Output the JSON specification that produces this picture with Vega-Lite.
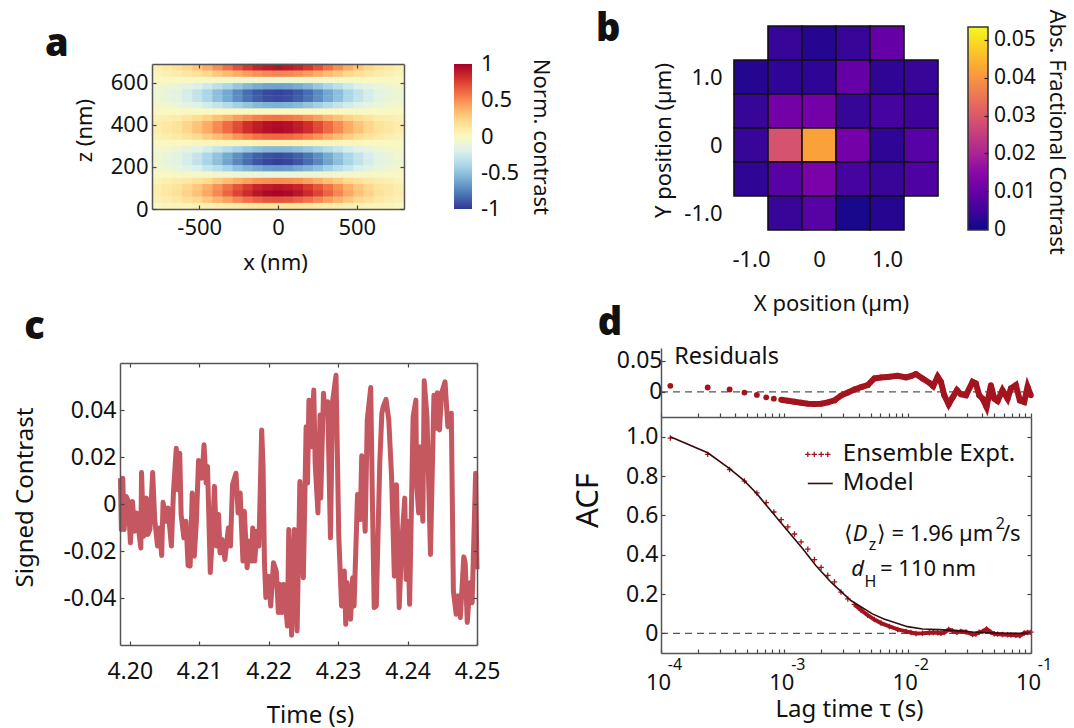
{"$schema":"https://vega.github.io/schema/vega-lite/v6.json","width":1074,"height":728,"autosize":"none","padding":0,"background":"white",
"config":{"font":"Noto Sans","view":{"stroke":null},"axis":{"grid":false,"labelFontSize":22,"titleFontSize":22,"labelColor":"#111","titleColor":"#111","titleFontWeight":"normal","titleBaseline":"middle","domainColor":"#555","tickColor":"#444","domainWidth":1.5,"tickWidth":1.2,"labelOverlap":false,"labelFlush":false},"text":{"color":"#111","align":"left","baseline":"middle"}},
"datasets":{
"a":[{"x":-768,"z":15,"c":0.01},{"x":-704,"z":15,"c":0.02},{"x":-640,"z":15,"c":0.03},{"x":-576,"z":15,"c":0.04},{"x":-512,"z":15,"c":0.05},{"x":-448,"z":15,"c":0.06},{"x":-384,"z":15,"c":0.08},{"x":-320,"z":15,"c":0.1},{"x":-256,"z":15,"c":0.11},{"x":-192,"z":15,"c":0.13},{"x":-128,"z":15,"c":0.14},{"x":-64,"z":15,"c":0.15},{"x":0,"z":15,"c":0.15},{"x":64,"z":15,"c":0.15},{"x":128,"z":15,"c":0.14},{"x":192,"z":15,"c":0.13},{"x":256,"z":15,"c":0.11},{"x":320,"z":15,"c":0.1},{"x":384,"z":15,"c":0.08},{"x":448,"z":15,"c":0.06},{"x":512,"z":15,"c":0.05},{"x":576,"z":15,"c":0.04},{"x":640,"z":15,"c":0.03},{"x":704,"z":15,"c":0.02},{"x":768,"z":15,"c":0.01},
{"x":-768,"z":45,"c":0.06},{"x":-704,"z":45,"c":0.08},{"x":-640,"z":45,"c":0.12},{"x":-576,"z":45,"c":0.17},{"x":-512,"z":45,"c":0.22},{"x":-448,"z":45,"c":0.29},{"x":-384,"z":45,"c":0.37},{"x":-320,"z":45,"c":0.44},{"x":-256,"z":45,"c":0.52},{"x":-192,"z":45,"c":0.59},{"x":-128,"z":45,"c":0.64},{"x":-64,"z":45,"c":0.68},{"x":0,"z":45,"c":0.69},{"x":64,"z":45,"c":0.68},{"x":128,"z":45,"c":0.64},{"x":192,"z":45,"c":0.59},{"x":256,"z":45,"c":0.52},{"x":320,"z":45,"c":0.44},{"x":384,"z":45,"c":0.37},{"x":448,"z":45,"c":0.29},{"x":512,"z":45,"c":0.22},{"x":576,"z":45,"c":0.17},{"x":640,"z":45,"c":0.12},{"x":704,"z":45,"c":0.08},{"x":768,"z":45,"c":0.06},
{"x":-768,"z":75,"c":0.08},{"x":-704,"z":75,"c":0.12},{"x":-640,"z":75,"c":0.17},{"x":-576,"z":75,"c":0.24},{"x":-512,"z":75,"c":0.31},{"x":-448,"z":75,"c":0.41},{"x":-384,"z":75,"c":0.52},{"x":-320,"z":75,"c":0.63},{"x":-256,"z":75,"c":0.74},{"x":-192,"z":75,"c":0.83},{"x":-128,"z":75,"c":0.91},{"x":-64,"z":75,"c":0.96},{"x":0,"z":75,"c":0.98},{"x":64,"z":75,"c":0.96},{"x":128,"z":75,"c":0.91},{"x":192,"z":75,"c":0.83},{"x":256,"z":75,"c":0.74},{"x":320,"z":75,"c":0.63},{"x":384,"z":75,"c":0.52},{"x":448,"z":75,"c":0.41},{"x":512,"z":75,"c":0.31},{"x":576,"z":75,"c":0.24},{"x":640,"z":75,"c":0.17},{"x":704,"z":75,"c":0.12},{"x":768,"z":75,"c":0.08},
{"x":-768,"z":105,"c":0.07},{"x":-704,"z":105,"c":0.11},{"x":-640,"z":105,"c":0.15},{"x":-576,"z":105,"c":0.22},{"x":-512,"z":105,"c":0.29},{"x":-448,"z":105,"c":0.38},{"x":-384,"z":105,"c":0.48},{"x":-320,"z":105,"c":0.58},{"x":-256,"z":105,"c":0.68},{"x":-192,"z":105,"c":0.77},{"x":-128,"z":105,"c":0.85},{"x":-64,"z":105,"c":0.89},{"x":0,"z":105,"c":0.91},{"x":64,"z":105,"c":0.89},{"x":128,"z":105,"c":0.85},{"x":192,"z":105,"c":0.77},{"x":256,"z":105,"c":0.68},{"x":320,"z":105,"c":0.58},{"x":384,"z":105,"c":0.48},{"x":448,"z":105,"c":0.38},{"x":512,"z":105,"c":0.29},{"x":576,"z":105,"c":0.22},{"x":640,"z":105,"c":0.15},{"x":704,"z":105,"c":0.11},{"x":768,"z":105,"c":0.07},
{"x":-768,"z":135,"c":0.04},{"x":-704,"z":135,"c":0.06},{"x":-640,"z":135,"c":0.09},{"x":-576,"z":135,"c":0.12},{"x":-512,"z":135,"c":0.16},{"x":-448,"z":135,"c":0.21},{"x":-384,"z":135,"c":0.27},{"x":-320,"z":135,"c":0.32},{"x":-256,"z":135,"c":0.38},{"x":-192,"z":135,"c":0.43},{"x":-128,"z":135,"c":0.47},{"x":-64,"z":135,"c":0.49},{"x":0,"z":135,"c":0.5},{"x":64,"z":135,"c":0.49},{"x":128,"z":135,"c":0.47},{"x":192,"z":135,"c":0.43},{"x":256,"z":135,"c":0.38},{"x":320,"z":135,"c":0.32},{"x":384,"z":135,"c":0.27},{"x":448,"z":135,"c":0.21},{"x":512,"z":135,"c":0.16},{"x":576,"z":135,"c":0.12},{"x":640,"z":135,"c":0.09},{"x":704,"z":135,"c":0.06},{"x":768,"z":135,"c":0.04},
{"x":-768,"z":165,"c":-0.01},{"x":-704,"z":165,"c":-0.01},{"x":-640,"z":165,"c":-0.02},{"x":-576,"z":165,"c":-0.02},{"x":-512,"z":165,"c":-0.03},{"x":-448,"z":165,"c":-0.04},{"x":-384,"z":165,"c":-0.05},{"x":-320,"z":165,"c":-0.06},{"x":-256,"z":165,"c":-0.08},{"x":-192,"z":165,"c":-0.09},{"x":-128,"z":165,"c":-0.09},{"x":-64,"z":165,"c":-0.1},{"x":0,"z":165,"c":-0.1},{"x":64,"z":165,"c":-0.1},{"x":128,"z":165,"c":-0.09},{"x":192,"z":165,"c":-0.09},{"x":256,"z":165,"c":-0.08},{"x":320,"z":165,"c":-0.06},{"x":384,"z":165,"c":-0.05},{"x":448,"z":165,"c":-0.04},{"x":512,"z":165,"c":-0.03},{"x":576,"z":165,"c":-0.02},{"x":640,"z":165,"c":-0.02},{"x":704,"z":165,"c":-0.01},{"x":768,"z":165,"c":-0.01},
{"x":-768,"z":195,"c":-0.05},{"x":-704,"z":195,"c":-0.08},{"x":-640,"z":195,"c":-0.11},{"x":-576,"z":195,"c":-0.16},{"x":-512,"z":195,"c":-0.21},{"x":-448,"z":195,"c":-0.28},{"x":-384,"z":195,"c":-0.35},{"x":-320,"z":195,"c":-0.42},{"x":-256,"z":195,"c":-0.5},{"x":-192,"z":195,"c":-0.56},{"x":-128,"z":195,"c":-0.61},{"x":-64,"z":195,"c":-0.65},{"x":0,"z":195,"c":-0.66},{"x":64,"z":195,"c":-0.65},{"x":128,"z":195,"c":-0.61},{"x":192,"z":195,"c":-0.56},{"x":256,"z":195,"c":-0.5},{"x":320,"z":195,"c":-0.42},{"x":384,"z":195,"c":-0.35},{"x":448,"z":195,"c":-0.28},{"x":512,"z":195,"c":-0.21},{"x":576,"z":195,"c":-0.16},{"x":640,"z":195,"c":-0.11},{"x":704,"z":195,"c":-0.08},{"x":768,"z":195,"c":-0.05},
{"x":-768,"z":225,"c":-0.08},{"x":-704,"z":225,"c":-0.12},{"x":-640,"z":225,"c":-0.16},{"x":-576,"z":225,"c":-0.23},{"x":-512,"z":225,"c":-0.31},{"x":-448,"z":225,"c":-0.41},{"x":-384,"z":225,"c":-0.51},{"x":-320,"z":225,"c":-0.62},{"x":-256,"z":225,"c":-0.73},{"x":-192,"z":225,"c":-0.82},{"x":-128,"z":225,"c":-0.9},{"x":-64,"z":225,"c":-0.95},{"x":0,"z":225,"c":-0.97},{"x":64,"z":225,"c":-0.95},{"x":128,"z":225,"c":-0.9},{"x":192,"z":225,"c":-0.82},{"x":256,"z":225,"c":-0.73},{"x":320,"z":225,"c":-0.62},{"x":384,"z":225,"c":-0.51},{"x":448,"z":225,"c":-0.41},{"x":512,"z":225,"c":-0.31},{"x":576,"z":225,"c":-0.23},{"x":640,"z":225,"c":-0.16},{"x":704,"z":225,"c":-0.12},{"x":768,"z":225,"c":-0.08},
{"x":-768,"z":255,"c":-0.07},{"x":-704,"z":255,"c":-0.11},{"x":-640,"z":255,"c":-0.16},{"x":-576,"z":255,"c":-0.22},{"x":-512,"z":255,"c":-0.3},{"x":-448,"z":255,"c":-0.39},{"x":-384,"z":255,"c":-0.49},{"x":-320,"z":255,"c":-0.6},{"x":-256,"z":255,"c":-0.7},{"x":-192,"z":255,"c":-0.79},{"x":-128,"z":255,"c":-0.86},{"x":-64,"z":255,"c":-0.91},{"x":0,"z":255,"c":-0.93},{"x":64,"z":255,"c":-0.91},{"x":128,"z":255,"c":-0.86},{"x":192,"z":255,"c":-0.79},{"x":256,"z":255,"c":-0.7},{"x":320,"z":255,"c":-0.6},{"x":384,"z":255,"c":-0.49},{"x":448,"z":255,"c":-0.39},{"x":512,"z":255,"c":-0.3},{"x":576,"z":255,"c":-0.22},{"x":640,"z":255,"c":-0.16},{"x":704,"z":255,"c":-0.11},{"x":768,"z":255,"c":-0.07},
{"x":-768,"z":285,"c":-0.04},{"x":-704,"z":285,"c":-0.06},{"x":-640,"z":285,"c":-0.09},{"x":-576,"z":285,"c":-0.13},{"x":-512,"z":285,"c":-0.17},{"x":-448,"z":285,"c":-0.23},{"x":-384,"z":285,"c":-0.29},{"x":-320,"z":285,"c":-0.35},{"x":-256,"z":285,"c":-0.41},{"x":-192,"z":285,"c":-0.46},{"x":-128,"z":285,"c":-0.5},{"x":-64,"z":285,"c":-0.53},{"x":0,"z":285,"c":-0.54},{"x":64,"z":285,"c":-0.53},{"x":128,"z":285,"c":-0.5},{"x":192,"z":285,"c":-0.46},{"x":256,"z":285,"c":-0.41},{"x":320,"z":285,"c":-0.35},{"x":384,"z":285,"c":-0.29},{"x":448,"z":285,"c":-0.23},{"x":512,"z":285,"c":-0.17},{"x":576,"z":285,"c":-0.13},{"x":640,"z":285,"c":-0.09},{"x":704,"z":285,"c":-0.06},{"x":768,"z":285,"c":-0.04},
{"x":-768,"z":315,"c":0},{"x":-704,"z":315,"c":0.01},{"x":-640,"z":315,"c":0.01},{"x":-576,"z":315,"c":0.01},{"x":-512,"z":315,"c":0.02},{"x":-448,"z":315,"c":0.02},{"x":-384,"z":315,"c":0.03},{"x":-320,"z":315,"c":0.03},{"x":-256,"z":315,"c":0.04},{"x":-192,"z":315,"c":0.04},{"x":-128,"z":315,"c":0.05},{"x":-64,"z":315,"c":0.05},{"x":0,"z":315,"c":0.05},{"x":64,"z":315,"c":0.05},{"x":128,"z":315,"c":0.05},{"x":192,"z":315,"c":0.04},{"x":256,"z":315,"c":0.04},{"x":320,"z":315,"c":0.03},{"x":384,"z":315,"c":0.03},{"x":448,"z":315,"c":0.02},{"x":512,"z":315,"c":0.02},{"x":576,"z":315,"c":0.01},{"x":640,"z":315,"c":0.01},{"x":704,"z":315,"c":0.01},{"x":768,"z":315,"c":0},
{"x":-768,"z":345,"c":0.05},{"x":-704,"z":345,"c":0.07},{"x":-640,"z":345,"c":0.11},{"x":-576,"z":345,"c":0.15},{"x":-512,"z":345,"c":0.2},{"x":-448,"z":345,"c":0.26},{"x":-384,"z":345,"c":0.33},{"x":-320,"z":345,"c":0.4},{"x":-256,"z":345,"c":0.47},{"x":-192,"z":345,"c":0.53},{"x":-128,"z":345,"c":0.58},{"x":-64,"z":345,"c":0.61},{"x":0,"z":345,"c":0.62},{"x":64,"z":345,"c":0.61},{"x":128,"z":345,"c":0.58},{"x":192,"z":345,"c":0.53},{"x":256,"z":345,"c":0.47},{"x":320,"z":345,"c":0.4},{"x":384,"z":345,"c":0.33},{"x":448,"z":345,"c":0.26},{"x":512,"z":345,"c":0.2},{"x":576,"z":345,"c":0.15},{"x":640,"z":345,"c":0.11},{"x":704,"z":345,"c":0.07},{"x":768,"z":345,"c":0.05},
{"x":-768,"z":375,"c":0.08},{"x":-704,"z":375,"c":0.12},{"x":-640,"z":375,"c":0.16},{"x":-576,"z":375,"c":0.23},{"x":-512,"z":375,"c":0.31},{"x":-448,"z":375,"c":0.4},{"x":-384,"z":375,"c":0.51},{"x":-320,"z":375,"c":0.61},{"x":-256,"z":375,"c":0.72},{"x":-192,"z":375,"c":0.82},{"x":-128,"z":375,"c":0.89},{"x":-64,"z":375,"c":0.94},{"x":0,"z":375,"c":0.96},{"x":64,"z":375,"c":0.94},{"x":128,"z":375,"c":0.89},{"x":192,"z":375,"c":0.82},{"x":256,"z":375,"c":0.72},{"x":320,"z":375,"c":0.61},{"x":384,"z":375,"c":0.51},{"x":448,"z":375,"c":0.4},{"x":512,"z":375,"c":0.31},{"x":576,"z":375,"c":0.23},{"x":640,"z":375,"c":0.16},{"x":704,"z":375,"c":0.12},{"x":768,"z":375,"c":0.08},
{"x":-768,"z":405,"c":0.08},{"x":-704,"z":405,"c":0.11},{"x":-640,"z":405,"c":0.16},{"x":-576,"z":405,"c":0.23},{"x":-512,"z":405,"c":0.3},{"x":-448,"z":405,"c":0.4},{"x":-384,"z":405,"c":0.5},{"x":-320,"z":405,"c":0.61},{"x":-256,"z":405,"c":0.71},{"x":-192,"z":405,"c":0.81},{"x":-128,"z":405,"c":0.88},{"x":-64,"z":405,"c":0.93},{"x":0,"z":405,"c":0.95},{"x":64,"z":405,"c":0.93},{"x":128,"z":405,"c":0.88},{"x":192,"z":405,"c":0.81},{"x":256,"z":405,"c":0.71},{"x":320,"z":405,"c":0.61},{"x":384,"z":405,"c":0.5},{"x":448,"z":405,"c":0.4},{"x":512,"z":405,"c":0.3},{"x":576,"z":405,"c":0.23},{"x":640,"z":405,"c":0.16},{"x":704,"z":405,"c":0.11},{"x":768,"z":405,"c":0.08},
{"x":-768,"z":435,"c":0.05},{"x":-704,"z":435,"c":0.07},{"x":-640,"z":435,"c":0.1},{"x":-576,"z":435,"c":0.14},{"x":-512,"z":435,"c":0.19},{"x":-448,"z":435,"c":0.24},{"x":-384,"z":435,"c":0.31},{"x":-320,"z":435,"c":0.37},{"x":-256,"z":435,"c":0.44},{"x":-192,"z":435,"c":0.49},{"x":-128,"z":435,"c":0.54},{"x":-64,"z":435,"c":0.57},{"x":0,"z":435,"c":0.58},{"x":64,"z":435,"c":0.57},{"x":128,"z":435,"c":0.54},{"x":192,"z":435,"c":0.49},{"x":256,"z":435,"c":0.44},{"x":320,"z":435,"c":0.37},{"x":384,"z":435,"c":0.31},{"x":448,"z":435,"c":0.24},{"x":512,"z":435,"c":0.19},{"x":576,"z":435,"c":0.14},{"x":640,"z":435,"c":0.1},{"x":704,"z":435,"c":0.07},{"x":768,"z":435,"c":0.05},
{"x":-768,"z":465,"c":0},{"x":-704,"z":465,"c":0},{"x":-640,"z":465,"c":0},{"x":-576,"z":465,"c":0},{"x":-512,"z":465,"c":0},{"x":-448,"z":465,"c":0},{"x":-384,"z":465,"c":0.01},{"x":-320,"z":465,"c":0.01},{"x":-256,"z":465,"c":0.01},{"x":-192,"z":465,"c":0.01},{"x":-128,"z":465,"c":0.01},{"x":-64,"z":465,"c":0.01},{"x":0,"z":465,"c":0.01},{"x":64,"z":465,"c":0.01},{"x":128,"z":465,"c":0.01},{"x":192,"z":465,"c":0.01},{"x":256,"z":465,"c":0.01},{"x":320,"z":465,"c":0.01},{"x":384,"z":465,"c":0.01},{"x":448,"z":465,"c":0},{"x":512,"z":465,"c":0},{"x":576,"z":465,"c":0},{"x":640,"z":465,"c":0},{"x":704,"z":465,"c":0},{"x":768,"z":465,"c":0},
{"x":-768,"z":495,"c":-0.05},{"x":-704,"z":495,"c":-0.07},{"x":-640,"z":495,"c":-0.1},{"x":-576,"z":495,"c":-0.14},{"x":-512,"z":495,"c":-0.18},{"x":-448,"z":495,"c":-0.24},{"x":-384,"z":495,"c":-0.3},{"x":-320,"z":495,"c":-0.36},{"x":-256,"z":495,"c":-0.43},{"x":-192,"z":495,"c":-0.48},{"x":-128,"z":495,"c":-0.53},{"x":-64,"z":495,"c":-0.56},{"x":0,"z":495,"c":-0.57},{"x":64,"z":495,"c":-0.56},{"x":128,"z":495,"c":-0.53},{"x":192,"z":495,"c":-0.48},{"x":256,"z":495,"c":-0.43},{"x":320,"z":495,"c":-0.36},{"x":384,"z":495,"c":-0.3},{"x":448,"z":495,"c":-0.24},{"x":512,"z":495,"c":-0.18},{"x":576,"z":495,"c":-0.14},{"x":640,"z":495,"c":-0.1},{"x":704,"z":495,"c":-0.07},{"x":768,"z":495,"c":-0.05},
{"x":-768,"z":525,"c":-0.08},{"x":-704,"z":525,"c":-0.11},{"x":-640,"z":525,"c":-0.16},{"x":-576,"z":525,"c":-0.23},{"x":-512,"z":525,"c":-0.3},{"x":-448,"z":525,"c":-0.39},{"x":-384,"z":525,"c":-0.5},{"x":-320,"z":525,"c":-0.6},{"x":-256,"z":525,"c":-0.71},{"x":-192,"z":525,"c":-0.8},{"x":-128,"z":525,"c":-0.87},{"x":-64,"z":525,"c":-0.92},{"x":0,"z":525,"c":-0.94},{"x":64,"z":525,"c":-0.92},{"x":128,"z":525,"c":-0.87},{"x":192,"z":525,"c":-0.8},{"x":256,"z":525,"c":-0.71},{"x":320,"z":525,"c":-0.6},{"x":384,"z":525,"c":-0.5},{"x":448,"z":525,"c":-0.39},{"x":512,"z":525,"c":-0.3},{"x":576,"z":525,"c":-0.23},{"x":640,"z":525,"c":-0.16},{"x":704,"z":525,"c":-0.11},{"x":768,"z":525,"c":-0.08},
{"x":-768,"z":555,"c":-0.08},{"x":-704,"z":555,"c":-0.12},{"x":-640,"z":555,"c":-0.16},{"x":-576,"z":555,"c":-0.23},{"x":-512,"z":555,"c":-0.31},{"x":-448,"z":555,"c":-0.4},{"x":-384,"z":555,"c":-0.51},{"x":-320,"z":555,"c":-0.61},{"x":-256,"z":555,"c":-0.72},{"x":-192,"z":555,"c":-0.82},{"x":-128,"z":555,"c":-0.89},{"x":-64,"z":555,"c":-0.94},{"x":0,"z":555,"c":-0.96},{"x":64,"z":555,"c":-0.94},{"x":128,"z":555,"c":-0.89},{"x":192,"z":555,"c":-0.82},{"x":256,"z":555,"c":-0.72},{"x":320,"z":555,"c":-0.61},{"x":384,"z":555,"c":-0.51},{"x":448,"z":555,"c":-0.4},{"x":512,"z":555,"c":-0.31},{"x":576,"z":555,"c":-0.23},{"x":640,"z":555,"c":-0.16},{"x":704,"z":555,"c":-0.12},{"x":768,"z":555,"c":-0.08},
{"x":-768,"z":585,"c":-0.05},{"x":-704,"z":585,"c":-0.08},{"x":-640,"z":585,"c":-0.11},{"x":-576,"z":585,"c":-0.15},{"x":-512,"z":585,"c":-0.2},{"x":-448,"z":585,"c":-0.26},{"x":-384,"z":585,"c":-0.33},{"x":-320,"z":585,"c":-0.4},{"x":-256,"z":585,"c":-0.47},{"x":-192,"z":585,"c":-0.54},{"x":-128,"z":585,"c":-0.59},{"x":-64,"z":585,"c":-0.62},{"x":0,"z":585,"c":-0.63},{"x":64,"z":585,"c":-0.62},{"x":128,"z":585,"c":-0.59},{"x":192,"z":585,"c":-0.54},{"x":256,"z":585,"c":-0.47},{"x":320,"z":585,"c":-0.4},{"x":384,"z":585,"c":-0.33},{"x":448,"z":585,"c":-0.26},{"x":512,"z":585,"c":-0.2},{"x":576,"z":585,"c":-0.15},{"x":640,"z":585,"c":-0.11},{"x":704,"z":585,"c":-0.08},{"x":768,"z":585,"c":-0.05},
{"x":-768,"z":615,"c":0},{"x":-704,"z":615,"c":-0.01},{"x":-640,"z":615,"c":-0.01},{"x":-576,"z":615,"c":-0.01},{"x":-512,"z":615,"c":-0.02},{"x":-448,"z":615,"c":-0.03},{"x":-384,"z":615,"c":-0.03},{"x":-320,"z":615,"c":-0.04},{"x":-256,"z":615,"c":-0.05},{"x":-192,"z":615,"c":-0.05},{"x":-128,"z":615,"c":-0.06},{"x":-64,"z":615,"c":-0.06},{"x":0,"z":615,"c":-0.06},{"x":64,"z":615,"c":-0.06},{"x":128,"z":615,"c":-0.06},{"x":192,"z":615,"c":-0.05},{"x":256,"z":615,"c":-0.05},{"x":320,"z":615,"c":-0.04},{"x":384,"z":615,"c":-0.03},{"x":448,"z":615,"c":-0.03},{"x":512,"z":615,"c":-0.02},{"x":576,"z":615,"c":-0.01},{"x":640,"z":615,"c":-0.01},{"x":704,"z":615,"c":-0.01},{"x":768,"z":615,"c":0},
{"x":-768,"z":645,"c":0.04},{"x":-704,"z":645,"c":0.06},{"x":-640,"z":645,"c":0.09},{"x":-576,"z":645,"c":0.13},{"x":-512,"z":645,"c":0.17},{"x":-448,"z":645,"c":0.22},{"x":-384,"z":645,"c":0.28},{"x":-320,"z":645,"c":0.34},{"x":-256,"z":645,"c":0.4},{"x":-192,"z":645,"c":0.45},{"x":-128,"z":645,"c":0.49},{"x":-64,"z":645,"c":0.52},{"x":0,"z":645,"c":0.53},{"x":64,"z":645,"c":0.52},{"x":128,"z":645,"c":0.49},{"x":192,"z":645,"c":0.45},{"x":256,"z":645,"c":0.4},{"x":320,"z":645,"c":0.34},{"x":384,"z":645,"c":0.28},{"x":448,"z":645,"c":0.22},{"x":512,"z":645,"c":0.17},{"x":576,"z":645,"c":0.13},{"x":640,"z":645,"c":0.09},{"x":704,"z":645,"c":0.06},{"x":768,"z":645,"c":0.04},
{"x":-768,"z":675,"c":0.07},{"x":-704,"z":675,"c":0.11},{"x":-640,"z":675,"c":0.16},{"x":-576,"z":675,"c":0.22},{"x":-512,"z":675,"c":0.29},{"x":-448,"z":675,"c":0.39},{"x":-384,"z":675,"c":0.49},{"x":-320,"z":675,"c":0.59},{"x":-256,"z":675,"c":0.69},{"x":-192,"z":675,"c":0.78},{"x":-128,"z":675,"c":0.86},{"x":-64,"z":675,"c":0.9},{"x":0,"z":675,"c":0.92},{"x":64,"z":675,"c":0.9},{"x":128,"z":675,"c":0.86},{"x":192,"z":675,"c":0.78},{"x":256,"z":675,"c":0.69},{"x":320,"z":675,"c":0.59},{"x":384,"z":675,"c":0.49},{"x":448,"z":675,"c":0.39},{"x":512,"z":675,"c":0.29},{"x":576,"z":675,"c":0.22},{"x":640,"z":675,"c":0.16},{"x":704,"z":675,"c":0.11},{"x":768,"z":675,"c":0.07}],
"b":[{"x":-0.5,"y":1.5,"c":0.004},{"x":0,"y":1.5,"c":0.002},{"x":0.5,"y":1.5,"c":0.004},{"x":1,"y":1.5,"c":0.01},
{"x":-1,"y":1,"c":0.002},{"x":-0.5,"y":1,"c":0.003},{"x":0,"y":1,"c":0.003},{"x":0.5,"y":1,"c":0.01},{"x":1,"y":1,"c":0.003},{"x":1.5,"y":1,"c":0.004},
{"x":-1,"y":0.5,"c":0.004},{"x":-0.5,"y":0.5,"c":0.012},{"x":0,"y":0.5,"c":0.012},{"x":0.5,"y":0.5,"c":0.004},{"x":1,"y":0.5,"c":0.006},{"x":1.5,"y":0.5,"c":0.005},
{"x":-1,"y":0,"c":0.004},{"x":-0.5,"y":0,"c":0.029},{"x":0,"y":0,"c":0.042},{"x":0.5,"y":0,"c":0.012},{"x":1,"y":0,"c":0.003},{"x":1.5,"y":0,"c":0.008},
{"x":-1,"y":-0.5,"c":0.003},{"x":-0.5,"y":-0.5,"c":0.008},{"x":0,"y":-0.5,"c":0.013},{"x":0.5,"y":-0.5,"c":0.006},{"x":1,"y":-0.5,"c":0.004},{"x":1.5,"y":-0.5,"c":0.007},
{"x":-0.5,"y":-1,"c":0.004},{"x":0,"y":-1,"c":0.008},{"x":0.5,"y":-1,"c":0.001},{"x":1,"y":-1,"c":0.002}],
"c":[[4.19866,0.011],[4.1988,-0.0109],[4.199,0.011],[4.1992,-0.0109],[4.1995,0.0032],[4.1998,0.0011],[4.2001,-0.0165],[4.2004,0.0011],[4.2007,-0.0116],[4.201,-0.0038],[4.2016,-0.0187],[4.2017,0.0134],[4.202,-0.0137],[4.2024,0.0025],[4.2026,-0.013],[4.2029,-0.0109],[4.2033,0.0134],[4.2036,-0.0066],[4.204,-0.0179],[4.2043,-0.0102],[4.2046,-0.0219],[4.2048,0.0007],[4.2052,-0.0073],[4.2055,-0.0017],[4.206,-0.0179],[4.2063,0.0054],[4.2067,0.0237],[4.2069,0.0061],[4.2072,0.0216],[4.2074,-0.0045],[4.2078,-0.0144],[4.2081,-0.0073],[4.2084,-0.0261],[4.2087,-0.0264],[4.209,0.0047],[4.2093,-0.0222],[4.2096,-0.0073],[4.2099,0.0185],[4.2102,0.0146],[4.2104,0.011],[4.2107,0.0252],[4.211,0.0089],[4.2112,0.016],[4.2116,-0.0292],[4.2119,-0.0137],[4.2122,0.0075],[4.2125,-0.0179],[4.2128,-0.0045],[4.213,-0.0208],[4.2133,-0.0151],[4.2137,-0.0236],[4.2142,-0.0102],[4.2145,-0.0179],[4.2148,0.0082],[4.2153,0.0131],[4.2156,-0.0038],[4.2159,0.0047],[4.2163,-0.0243],[4.2165,-0.0031],[4.2169,-0.0271],[4.2172,-0.0158],[4.2176,-0.0243],[4.2177,-0.0102],[4.218,-0.0243],[4.2183,-0.0116],[4.2186,-0.0179],[4.219,0.0315],[4.2192,0.016],[4.2194,-0.025],[4.2196,-0.0398],[4.22,-0.0307],[4.2203,-0.0434],[4.2207,-0.025],[4.2211,-0.0285],[4.2214,-0.0462],[4.2216,-0.0342],[4.2219,-0.0462],[4.2222,-0.0342],[4.2227,-0.0519],[4.2229,-0.0109],[4.2233,-0.0558],[4.2237,-0.0109],[4.2241,-0.054],[4.2245,0.0096],[4.225,-0.0314],[4.2254,0.0329],[4.2256,0.0089],[4.2258,0.0442],[4.2261,0.0244],[4.2265,0.0485],[4.2267,0.0174],[4.2271,-0.0038],[4.2274,0.0379],[4.2275,0.0025],[4.2279,0.0471],[4.2281,0.0386],[4.2285,0.0435],[4.2289,-0.0144],[4.2292,0.0435],[4.2297,0.0548],[4.2301,-0.0137],[4.2305,-0.0434],[4.2309,-0.0285],[4.2311,-0.0512],[4.2313,-0.0335],[4.2316,-0.0469],[4.2318,-0.049],[4.2321,-0.0314],[4.2323,-0.0434],[4.2328,0.004],[4.2332,-0.0066],[4.2334,0.0205],[4.2339,-0.0116],[4.2342,0.0357],[4.2347,0.0496],[4.2349,0.0089],[4.2352,-0.0441],[4.2355,-0.0434],[4.236,0.0174],[4.2363,0.0386],[4.2365,0.0414],[4.2369,0.0445],[4.2373,0.0357],[4.2377,0.0117],[4.2381,-0.0307],[4.2384,0.0082],[4.2388,-0.0441],[4.2392,-0.0151],[4.2396,0.0025],[4.2398,-0.0321],[4.24,-0.0073],[4.2403,-0.0427],[4.2408,0.0372],[4.2412,0.0442],[4.2413,0.0089],[4.2416,-0.0038],[4.2418,0.0244],[4.2422,-0.0073],[4.2424,0.0524],[4.2428,0.0372],[4.2433,-0.0215],[4.2438,0.0463],[4.2441,0.0322],[4.2443,0.0473],[4.2446,0.0315],[4.2449,0.0471],[4.2454,0.052],[4.2458,0.0329],[4.2463,0.0386],[4.2466,-0.037],[4.247,-0.0469],[4.2473,-0.0391],[4.2476,-0.0483],[4.2481,-0.0225],[4.2483,-0.025],[4.2486,-0.0504],[4.249,-0.0335],[4.2493,-0.042],[4.2498,0.0131],[4.25,-0.0278]],
"d":[{"tau":1.19e-4,"res":0.0097,"acf":0.993},{"tau":2.39e-4,"res":0.007,"acf":0.91},{"tau":3.6e-4,"res":0.0038,"acf":0.833},{"tau":4.75e-4,"res":-0.0011,"acf":0.774},{"tau":5.99e-4,"res":-0.0048,"acf":0.714},{"tau":7.13e-4,"res":-0.0086,"acf":0.665},{"tau":8.22e-4,"res":-0.0108,"acf":0.617},{"tau":9.43e-4,"res":-0.0124,"acf":0.578},{"tau":1.067e-3,"res":-0.014,"acf":0.541},{"tau":1.208e-3,"res":-0.0156,"acf":0.505},{"tau":1.368e-3,"res":-0.0172,"acf":0.465},{"tau":1.55e-3,"res":-0.0188,"acf":0.428},{"tau":1.754e-3,"res":-0.0194,"acf":0.375},{"tau":1.986e-3,"res":-0.0188,"acf":0.335},{"tau":2.25e-3,"res":-0.0167,"acf":0.295},{"tau":2.55e-3,"res":-0.0135,"acf":0.262},{"tau":2.88e-3,"res":-0.0059,"acf":0.21},{"tau":3.27e-3,"res":-0.0011,"acf":0.175},{"tau":3.7e-3,"res":0.0038,"acf":0.147},{"tau":4.19e-3,"res":0.0075,"acf":0.118},{"tau":4.74e-3,"res":0.0108,"acf":0.092},{"tau":5.37e-3,"res":0.0215,"acf":0.07},{"tau":6.08e-3,"res":0.0231,"acf":0.052},{"tau":7.11e-3,"res":0.0242,"acf":0.035},{"tau":8.3e-3,"res":0.0258,"acf":0.02},{"tau":9.7e-3,"res":0.0231,"acf":0.01},{"tau":1.064e-2,"res":0.0253,"acf":0.004},{"tau":1.167e-2,"res":0.0285,"acf":-0.001},{"tau":1.32e-2,"res":0.0215,"acf":0},{"tau":1.5e-2,"res":0.0145,"acf":0.003},{"tau":1.61e-2,"res":0.0091,"acf":0.004},{"tau":1.75e-2,"res":0.0242,"acf":0.003},{"tau":1.86e-2,"res":0.0161,"acf":0},{"tau":1.98e-2,"res":-0.0054,"acf":0.004},{"tau":2.15e-2,"res":-0.0199,"acf":0.02},{"tau":2.31e-2,"res":-0.0091,"acf":0.012},{"tau":2.51e-2,"res":0.0027,"acf":0.005},{"tau":2.7e-2,"res":-0.0038,"acf":0.01},{"tau":2.97e-2,"res":-0.0054,"acf":0.007},{"tau":3.36e-2,"res":0.0161,"acf":-0.006},{"tau":3.57e-2,"res":0.0135,"acf":-0.004},{"tau":3.8e-2,"res":-0.0054,"acf":0.005},{"tau":4.05e-2,"res":-0.0108,"acf":0.01},{"tau":4.36e-2,"res":-0.0242,"acf":0.022},{"tau":4.73e-2,"res":0.0108,"acf":0.005},{"tau":5.04e-2,"res":-0.0108,"acf":-0.002},{"tau":5.36e-2,"res":-0.0145,"acf":-0.004},{"tau":5.87e-2,"res":0.0027,"acf":-0.006},{"tau":6.46e-2,"res":-0.0108,"acf":-0.007},{"tau":6.87e-2,"res":0.0054,"acf":-0.008},{"tau":7.54e-2,"res":0.0108,"acf":-0.01},{"tau":8.12e-2,"res":-0.0135,"acf":-0.012},{"tau":8.81e-2,"res":-0.0161,"acf":0.002},{"tau":9.38e-2,"res":0.0081,"acf":0.004},{"tau":9.97e-2,"res":-0.0054,"acf":0.006}],
"m":[{"tau":1.19e-4,"acf":1},{"tau":2.39e-4,"acf":0.918},{"tau":3.6e-4,"acf":0.838},{"tau":4.75e-4,"acf":0.775},{"tau":5.99e-4,"acf":0.71},{"tau":8.22e-4,"acf":0.605},{"tau":1.067e-3,"acf":0.52},{"tau":1.41e-3,"acf":0.43},{"tau":1.8e-3,"acf":0.345},{"tau":2.39e-3,"acf":0.26},{"tau":3.46e-3,"acf":0.167},{"tau":5.18e-3,"acf":0.099},{"tau":6.43e-3,"acf":0.073},{"tau":9.97e-3,"acf":0.034},{"tau":1.32e-2,"acf":0.022},{"tau":1.8e-2,"acf":0.019},{"tau":2.46e-2,"acf":0.014},{"tau":3.36e-2,"acf":0.007},{"tau":4.6e-2,"acf":0.003},{"tau":6.3e-2,"acf":0},{"tau":0.1,"acf":0}]
},
"resolve":{"scale":{"x":"independent","y":"independent","color":"independent"},"axis":{"x":"independent","y":"independent"},"legend":{"color":"independent"}},
"layer":[
{"resolve":{"axis":{"x":"independent","y":"independent"}},"layer":[
{"data":{"name":"a"},"mark":{"type":"rect","width":10.5,"height":6.7},"encoding":{
"x":{"field":"x","type":"quantitative","scale":{"domain":[-800,800],"range":[152,404],"nice":false,"zero":false},"axis":{"zindex":1,"orient":"bottom","offset":-519,"values":[-500,0,500],"labelExpr":"''+datum.value","tickSize":-4,"labelPadding":12,"title":"x (nm)","titleX":275,"titleY":53}},
"y":{"field":"z","type":"quantitative","scale":{"domain":[0,690],"range":[209,64],"nice":false,"zero":false},"axis":{"zindex":1,"orient":"left","offset":-152,"values":[0,200,400,600],"tickSize":-4,"labelPadding":8,"title":"z (nm)","titleX":-68,"titleY":130}},
"color":{"field":"c","type":"quantitative","scale":{"scheme":"redyellowblue","reverse":true,"domain":[-1,1]},"legend":{"orient":"none","legendX":454,"legendY":64,"title":null,"gradientLength":145,"gradientThickness":18,"values":[-1,-0.5,0,0.5,1],"labelExpr":"''+datum.value","labelFontSize":22,"labelColor":"#111","labelOffset":9,"encoding":{"labels":{"baseline":{"value":"middle"}}}}}}},
{"data":{"values":[{"x":-1479,"z":781,"t":"a"}]},"mark":{"type":"text","fontSize":38,"fontWeight":900},"encoding":{
"x":{"field":"x","type":"quantitative","scale":{"domain":[-800,800],"range":[152,404],"nice":false,"zero":false},"axis":{"zindex":1,"orient":"top","offset":-64,"values":[-500,0,500],"labels":false,"tickSize":-4,"title":null}},
"y":{"field":"z","type":"quantitative","scale":{"domain":[0,690],"range":[209,64],"nice":false,"zero":false},"axis":{"zindex":1,"orient":"right","offset":-670,"values":[0,200,400,600],"labels":false,"tickSize":-4,"title":null}},
"text":{"field":"t"}}},
{"data":{"values":[{"x":1670,"z":343,"t":"Norm. contrast"}]},"mark":{"type":"text","fontSize":22,"angle":90,"align":"center"},"encoding":{
"x":{"field":"x","type":"quantitative","scale":{"domain":[-800,800],"range":[152,404],"nice":false,"zero":false},"axis":null},
"y":{"field":"z","type":"quantitative","scale":{"domain":[0,690],"range":[209,64],"nice":false,"zero":false},"axis":null},
"text":{"field":"t"}}}
]},
{"resolve":{"axis":{"x":"independent","y":"independent"}},"encoding":{"x":{"field":"x","type":"quantitative","scale":{"domain":[-1.25,1.75],"range":[734,938],"nice":false,"zero":false},"axis":null},"y":{"field":"y","type":"quantitative","scale":{"domain":[-1.25,1.75],"range":[230,26],"nice":false,"zero":false},"axis":null}},
"layer":[
{"data":{"name":"b"},"mark":{"type":"rect","width":34,"height":34,"stroke":"#111","strokeWidth":1.6},"encoding":{
"x":{"field":"x","type":"quantitative","scale":{"domain":[-1.25,1.75],"range":[734,938],"nice":false,"zero":false},"axis":{"orient":"bottom","offset":-498,"values":[-1,0,1],"labelExpr":"datum.value==0?'0':datum.value>0?'1.0':'-1.0'","ticks":false,"domain":false,"labelPadding":19,"title":"X position (µm)","titleX":831,"titleY":73}},
"y":{"field":"y","type":"quantitative","scale":{"domain":[-1.25,1.75],"range":[230,26],"nice":false,"zero":false},"axis":{"orient":"left","offset":-734,"values":[-1,0,1],"labelExpr":"datum.value==0?'0':datum.value>0?'1.0':'-1.0'","ticks":false,"domain":false,"labelPadding":12,"title":"Y position (µm)","titleX":-71,"titleY":140}},
"color":{"field":"c","type":"quantitative","scale":{"scheme":"plasma","domain":[0,0.0535]},"legend":{"orient":"none","legendX":968,"legendY":27,"zindex":0,"title":null,"gradientLength":203,"gradientThickness":20,"gradientStrokeColor":"#333","gradientStrokeWidth":1.5,"values":[0,0.01,0.02,0.03,0.04,0.05],"labelExpr":"datum.value==0?'0':format(datum.value,'.2f')","labelFontSize":21,"labelColor":"#111","labelOffset":6,"encoding":{"labels":{"baseline":{"value":"middle"}}}}}}},
{"data":{"values":[{"x":-3.28,"y":1.69,"t":"b"}]},"mark":{"type":"text","fontSize":38,"fontWeight":900},"encoding":{"text":{"field":"t"}}},
{"data":{"values":[{"x":3.5,"y":0.19,"t":"Abs. Fractional Contrast"}]},"mark":{"type":"text","fontSize":22,"angle":90,"align":"center"},"encoding":{"text":{"field":"t"}}}
]},
{"resolve":{"axis":{"x":"independent","y":"independent"}},"layer":[
{"data":{"name":"c"},"mark":{"type":"line","color":"#c4575f","strokeWidth":5,"strokeJoin":"round"},"encoding":{
"x":{"field":"0","type":"quantitative","scale":{"domain":[4.1986,4.25],"range":[120,477],"nice":false,"zero":false},"axis":{"zindex":1,"orient":"bottom","offset":-83,"values":[4.2,4.21,4.22,4.23,4.24,4.25],"format":".2f","labelFontSize":23,"tickSize":-4,"labelPadding":19,"title":"Time (s)","titleFontSize":24,"titleX":310,"titleY":70}},
"y":{"field":"1","type":"quantitative","scale":{"domain":[-0.06,0.06],"range":[645,363],"nice":false,"zero":false},"axis":{"zindex":1,"orient":"left","offset":-120,"values":[-0.04,-0.02,0,0.02,0.04],"labelExpr":"datum.value==0?'0':(datum.value<0?'-':'')+format(abs(datum.value),'.2f')","labelFontSize":23,"tickSize":-4,"labelPadding":8,"title":"Signed Contrast","titleFontSize":24,"titleX":-95,"titleY":497}}}},
{"data":{"values":[{"x":4.1848,"y":0.0749,"t":"c"}]},"mark":{"type":"text","fontSize":38,"fontWeight":900},"encoding":{
"x":{"field":"x","type":"quantitative","scale":{"domain":[4.1986,4.25],"range":[120,477],"nice":false,"zero":false},"axis":{"zindex":1,"orient":"top","offset":-363,"values":[4.2,4.21,4.22,4.23,4.24,4.25],"labels":false,"tickSize":-4,"title":null}},
"y":{"field":"y","type":"quantitative","scale":{"domain":[-0.06,0.06],"range":[645,363],"nice":false,"zero":false},"axis":{"zindex":1,"orient":"right","offset":-597,"values":[-0.04,-0.02,0,0.02,0.04],"labels":false,"tickSize":-4,"title":null}},
"text":{"field":"t"}}}
]},
{"resolve":{"axis":{"x":"independent","y":"independent"}},"encoding":{"x":{"field":"tau","type":"quantitative","scale":{"type":"log","domain":[1e-4,0.1],"range":[661,1031],"nice":false},"axis":null},"y":{"field":"res","type":"quantitative","scale":{"domain":[-0.04,0.07],"range":[417,348],"nice":false,"zero":false},"axis":null}},"layer":[
{"data":{"values":[{"tau":1e-4,"res":0},{"tau":0.1,"res":0}]},"mark":{"type":"line","color":"#555","strokeWidth":1.2,"strokeDash":[7,5]},"encoding":{
"x":{"field":"tau","type":"quantitative","scale":{"type":"log","domain":[1e-4,0.1],"range":[661,1031],"nice":false},"axis":{"zindex":1,"orient":"bottom","offset":-311,"values":[1e-4,2e-4,3e-4,4e-4,5e-4,6e-4,7e-4,8e-4,9e-4,1e-3,2e-3,3e-3,4e-3,5e-3,6e-3,7e-3,8e-3,9e-3,1e-2,2e-2,3e-2,4e-2,5e-2,6e-2,7e-2,8e-2,9e-2,0.1],"labels":false,"tickSize":-4,"title":null}},
"y":{"field":"res","type":"quantitative","scale":{"domain":[-0.04,0.07],"range":[417,348],"nice":false,"zero":false},"axis":{"zindex":1,"orient":"left","offset":-661,"values":[0,0.05],"labelExpr":"datum.value==0?'0':'0.05'","labelFontSize":23,"tickSize":-4,"labelPadding":3,"title":null}}}},
{"data":{"name":"d"},"transform":[{"filter":"datum.tau>0.0009"}],"mark":{"type":"line","color":"#a3141f","strokeWidth":6}},
{"data":{"name":"d"},"mark":{"type":"point","filled":true,"color":"#a3141f","size":34,"opacity":1}},
{"data":{"values":[{"tau":3.07e-5,"res":0.108,"t":"d"}]},"mark":{"type":"text","fontSize":38,"fontWeight":900},"encoding":{"text":{"field":"t"}}},
{"data":{"values":[{"tau":1.28e-4,"res":0.056,"t":"Residuals"}]},"mark":{"type":"text","fontSize":23.5},"encoding":{"text":{"field":"t"}}}
]},
{"resolve":{"axis":{"x":"independent","y":"independent"}},"encoding":{"x":{"field":"tau","type":"quantitative","scale":{"type":"log","domain":[1e-4,0.1],"range":[661,1031],"nice":false},"axis":null},"y":{"field":"acf","type":"quantitative","scale":{"domain":[-0.1,1.1],"range":[653,417],"nice":false,"zero":false},"axis":null}},
"layer":[
{"data":{"values":[{"tau":1e-4,"acf":0},{"tau":0.1,"acf":0}]},"mark":{"type":"line","color":"#555","strokeWidth":1.2,"strokeDash":[7,5]},"encoding":{
"x":{"field":"tau","type":"quantitative","scale":{"type":"log","domain":[1e-4,0.1],"range":[661,1031],"nice":false},"axis":{"zindex":1,"orient":"bottom","offset":-75,"values":[1e-4,2e-4,3e-4,4e-4,5e-4,6e-4,7e-4,8e-4,9e-4,1e-3,2e-3,3e-3,4e-3,5e-3,6e-3,7e-3,8e-3,9e-3,1e-2,2e-2,3e-2,4e-2,5e-2,6e-2,7e-2,8e-2,9e-2,0.1],"labelExpr":"abs(log(datum.value)/LN10-round(log(datum.value)/LN10))<0.001?'10':''","labelOffset":-3,"labelFontSize":22,"tickSize":-4,"labelPadding":23,"title":"Lag time τ (s)","titleFontSize":24,"titleX":849,"titleY":56}},
"y":{"field":"acf","type":"quantitative","scale":{"domain":[-0.1,1.1],"range":[653,417],"nice":false,"zero":false},"axis":{"zindex":1,"orient":"left","offset":-661,"values":[0,0.2,0.4,0.6,0.8,1],"labelExpr":"datum.value==0?'0':format(datum.value,'.1f')","labelFontSize":23,"tickSize":-4,"labelPadding":7,"title":"ACF","titleFontSize":31,"titleX":-73,"titleY":500}}}},
{"data":{"values":[{"tau":0.0001,"acf":0.5}]},"mark":{"type":"text","text":""},"encoding":{
"x":{"field":"tau","type":"quantitative","scale":{"type":"log","domain":[1e-4,0.1],"range":[661,1031],"nice":false},"axis":null},
"y":{"field":"acf","type":"quantitative","scale":{"domain":[-0.1,1.1],"range":[653,417],"nice":false,"zero":false},"axis":{"zindex":1,"orient":"right","offset":-43,"values":[0,0.2,0.4,0.6,0.8,1],"labels":false,"tickSize":-4,"title":null}}}},
{"data":{"name":"d"},"transform":[{"filter":"datum.tau>0.0035"}],"mark":{"type":"line","color":"#a3141f","strokeWidth":4}},
{"data":{"name":"d"},"mark":{"type":"point","shape":"M-1,0H1M0,-1V1","filled":false,"color":"#a3141f","strokeWidth":1.3,"size":30,"opacity":1}},
{"data":{"name":"m"},"mark":{"type":"line","color":"#3a0a0c","strokeWidth":1.6}},
{"data":{"values":[{"tau":1.55e-3,"acf":0.91},{"tau":1.75e-3,"acf":0.91},{"tau":1.99e-3,"acf":0.91},{"tau":2.25e-3,"acf":0.91}]},"mark":{"type":"point","shape":"M-1,0H1M0,-1V1","filled":false,"color":"#a3141f","strokeWidth":1.3,"size":30,"opacity":1}},
{"data":{"values":[{"tau":1.55e-3,"acf":0.762},{"tau":2.47e-3,"acf":0.762}]},"mark":{"type":"line","color":"#3a0a0c","strokeWidth":1.6}},
{"data":{"values":[{"tau":2.98e-3,"acf":0.91,"t":"Ensemble Expt."},{"tau":2.98e-3,"acf":0.762,"t":"Model"}]},"mark":{"type":"text","fontSize":24},"encoding":{"text":{"field":"t"}}},
{"data":{"values":[{"tau":3.07e-3,"acf":0.507,"t":"⟨"},{"tau":5.61e-3,"acf":0.507,"t":"⟩ = 1.96 µm"},{"tau":5.81e-2,"acf":0.507,"t":"/s"},{"tau":5.97e-3,"acf":0.328,"t":"= 110 nm"}]},"mark":{"type":"text","fontSize":22},"encoding":{"text":{"field":"t"}}},
{"data":{"values":[{"tau":3.59e-3,"acf":0.507,"t":"D"},{"tau":3.48e-3,"acf":0.328,"t":"d"}]},"mark":{"type":"text","fontSize":22,"fontStyle":"italic"},"encoding":{"text":{"field":"t"}}},
{"data":{"values":[{"tau":4.83e-3,"acf":0.447,"t":"z"},{"tau":5.19e-2,"acf":0.558,"t":"2"},{"tau":4.46e-3,"acf":0.26,"t":"H"}]},"mark":{"type":"text","fontSize":16},"encoding":{"text":{"field":"t"}}},
{"data":{"values":[{"tau":1e-4,"acf":-0.163,"t":"-4"},{"tau":1e-3,"acf":-0.163,"t":"-3"},{"tau":1e-2,"acf":-0.163,"t":"-2"},{"tau":0.1,"acf":-0.163,"t":"-1"}]},"mark":{"type":"text","fontSize":16,"align":"center","dx":14},"encoding":{"text":{"field":"t"}}}
]},
{"data":{"values":[{"v":0.01},{"v":0.02},{"v":0.03},{"v":0.04},{"v":0.05}]},"mark":{"type":"point","opacity":0},"encoding":{"y":{"field":"v","type":"quantitative","scale":{"domain":[0,0.0535],"range":[229,27],"nice":false,"zero":false},"axis":{"zindex":1,"orient":"left","offset":-988,"values":[0.01,0.02,0.03,0.04,0.05],"labels":false,"domain":false,"tickSize":4,"tickColor":"#222","title":null}}}}
]}
